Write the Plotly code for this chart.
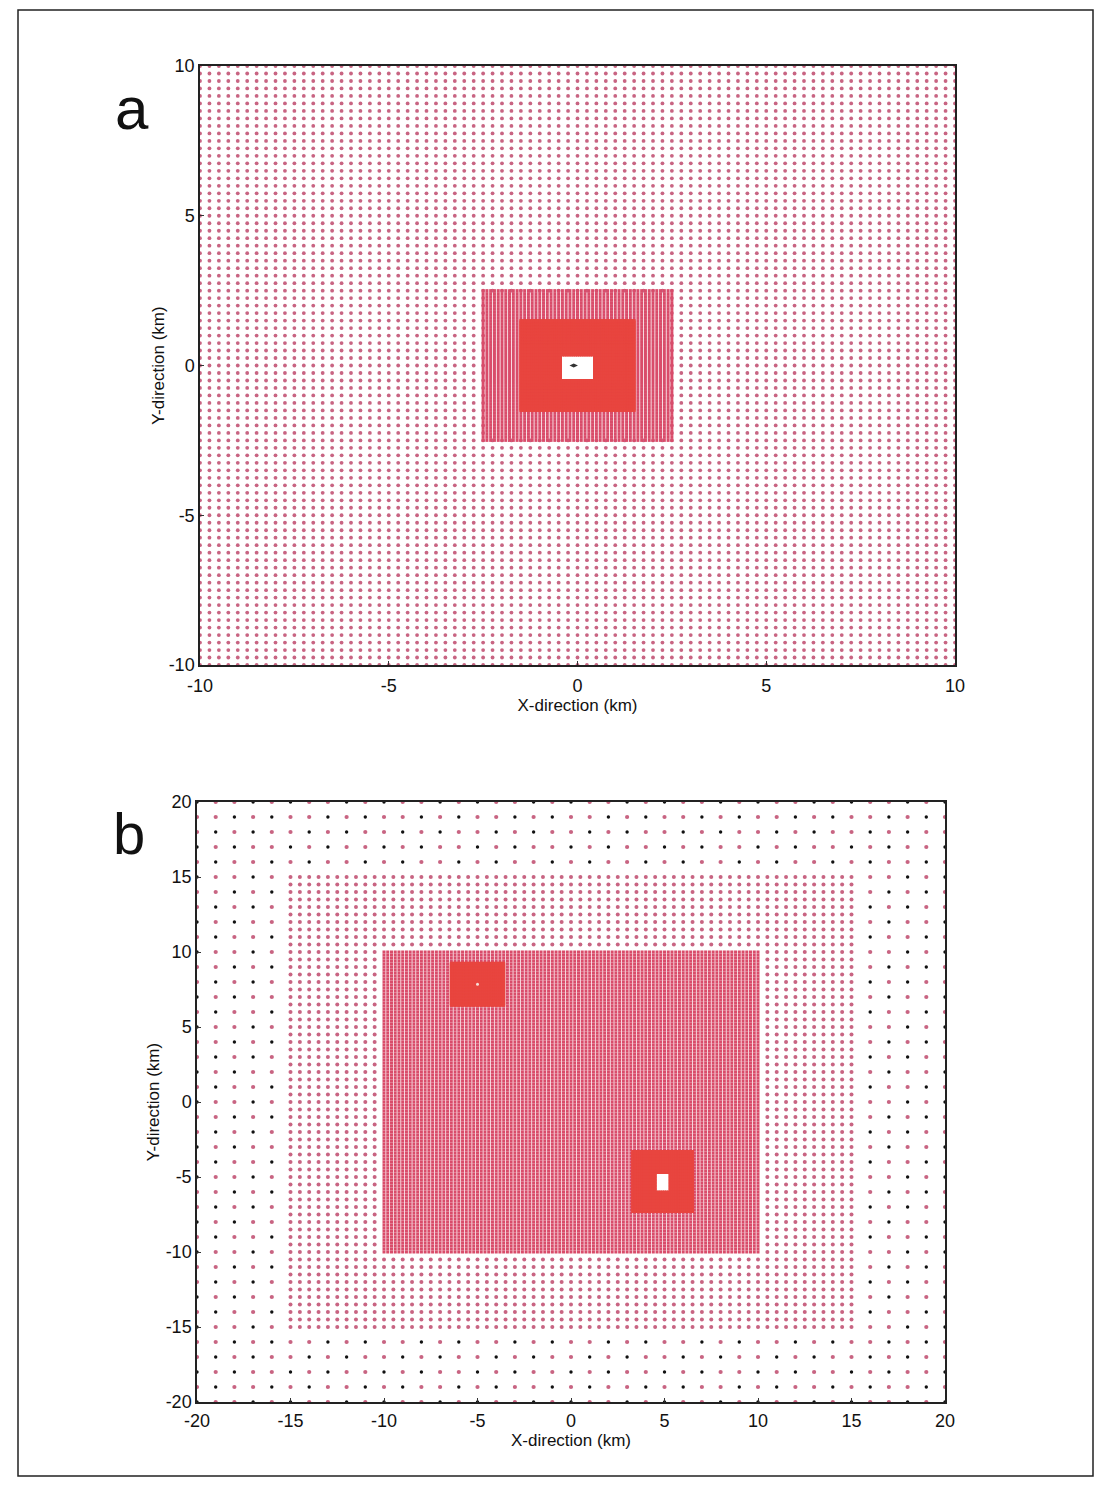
import numpy as np
import plotly.graph_objects as go

# ---------------- data: nested grid levels ----------------
# Panel a: (xmin, xmax, ymin, ymax, spacing km)
a_coarse = [-10.0, 10.0, -10.0, 10.0, 0.25]
a_medium = [-2.5, 2.5, -2.5, 2.5, 0.1]
a_fine = [-1.5, 1.5, -1.5, 1.5, 0.05]
a_hole = [-0.45, 0.45, -0.5, 0.35]          # area without nodes
a_station_x = [-0.1]
a_station_y = [0.0]

# Panel b
b_outer = [-20.0, 20.0, -20.0, 20.0, 1.0]
b_mid = [-15.0, 15.0, -15.0, 15.0, 0.5]
b_inner = [-10.0, 10.0, -10.0, 10.0, 0.2]
b_fine1 = [-6.4, -3.6, 6.45, 9.25, 0.1]
b_fine2 = [3.3, 6.5, -7.3, -3.3, 0.1]
b_hole2 = [4.55, 5.3, -6.0, -4.7]
b_hole1_x = [-5.0]
b_hole1_y = [7.85]

x_ticks_a = [-10, -5, 0, 5, 10]
y_ticks_a = [-10, -5, 0, 5, 10]
x_ticks_b = [-20, -15, -10, -5, 0, 5, 10, 15, 20]
y_ticks_b = [-20, -15, -10, -5, 0, 5, 10, 15, 20]


def grid(level, exclude=None):
    x0, x1, y0, y1, d = level
    xs = x0 + d * np.arange(int(round((x1 - x0) / d)) + 1)
    ys = y0 + d * np.arange(int(round((y1 - y0) / d)) + 1)
    X, Y = np.meshgrid(xs, ys)
    X = X.ravel(); Y = Y.ravel()
    keep = np.ones(X.shape, bool)
    for ex in (exclude or []):
        ex0, ex1, ey0, ey1 = ex[:4]
        keep &= ~((X > ex0 + 1e-9) & (X < ex1 - 1e-9) & (Y > ey0 + 1e-9) & (Y < ey1 - 1e-9))
    return X[keep], Y[keep]


fig = go.Figure()

DOT = "#c86482"
HATCH = "#d94c6a"
SOLID = "#e8453f"

def pts(x, y, ax, size, color, symbol="circle"):
    fig.add_trace(go.Scatter(x=x, y=y, mode="markers", xaxis=ax[0], yaxis=ax[1],
                             marker=dict(size=size, symbol=symbol, color=color, line=dict(width=0)),
                             hoverinfo="skip", showlegend=False))

A = ("x", "y")
B = ("x2", "y2")

# ---------- panel a ----------
x, y = grid(a_coarse, [a_medium])
pts(x, y, A, 3.8, DOT)
x, y = grid(a_medium, [a_fine])
pts(x, y, A, 3.0, HATCH, "square")
x, y = grid(a_fine, [a_hole])
pts(x, y, A, 3.0, SOLID, "square")
pts(a_station_x, a_station_y, A, 6, "#333333", "diamond-wide")

# ---------- panel b ----------
x, y = grid(b_outer, [[-15.5, 15.5, -15.5, 15.5]])
ix = np.round(x).astype(int); iy = np.round(y).astype(int)
blk = ((ix * 7 + iy * 3) % 5) < 2
pts(x[~blk], y[~blk], B, 4.2, DOT)
pts(x[blk], y[blk], B, 3.4, "#111111")
x, y = grid(b_mid, [[-10.1, 10.1, -10.1, 10.1]])
pts(x, y, B, 4.0, DOT)
x, y = grid(b_inner, [b_fine1, b_fine2])
pts(x, y, B, 3.0, HATCH, "square")
x, y = grid(b_fine1)
pts(x, y, B, 3.0, SOLID, "square")
x, y = grid(b_fine2, [b_hole2])
pts(x, y, B, 3.0, SOLID, "square")
pts(b_hole1_x, b_hole1_y, B, 3, "#f4e0d8")

# page is drawn inside the 8px body margin of the browser
OFF = 8
W, H = 1102 - 2 * OFF, 1485 - 2 * OFF
FONT = "Liberation Sans, Arial, sans-serif"

def px(v):
    return (v - OFF) / W

def py(v):
    return 1 - (v - OFF) / H

def axis(domain, rng, ticks, anchor, title, standoff, tls):
    return dict(domain=domain, range=rng, tickvals=ticks, ticktext=[str(t) for t in ticks],
                showgrid=False, zeroline=False, showline=True, linecolor="#222222", linewidth=1.5,
                mirror=True, ticks="inside", ticklen=4, tickcolor="#333333", automargin=False,
                ticklabelstandoff=tls,
                tickfont=dict(family=FONT, size=18, color="#111111"), anchor=anchor,
                title=dict(text=title, font=dict(family=FONT, size=17, color="#111111"), standoff=standoff))

fig.update_layout(
    template="none",
    width=W, height=H, margin=dict(l=0, r=0, t=0, b=0, pad=0), autosize=False,
    paper_bgcolor="white", plot_bgcolor="white",
    xaxis=axis([px(200), px(955)], [-10, 10], x_ticks_a, "y", "X-direction (km)", 2, 4),
    yaxis=axis([py(665), py(66)], [-10, 10], y_ticks_a, "x", "Y-direction (km)", 0, 0),
    xaxis2=axis([px(197), px(945)], [-20, 20], x_ticks_b, "y2", "X-direction (km)", 2, 2),
    yaxis2=axis([py(1402), py(802)], [-20, 20], y_ticks_b, "x2", "Y-direction (km)", 2, 0),
    annotations=[
        dict(text="a", x=px(132), y=py(108), xref="paper", yref="paper", showarrow=False,
             xanchor="center", yanchor="middle", font=dict(family=FONT, size=60, color="#111111")),
        dict(text="b", x=px(129), y=py(834), xref="paper", yref="paper", showarrow=False,
             xanchor="center", yanchor="middle", font=dict(family=FONT, size=58, color="#111111")),
    ],
    shapes=[dict(type="rect", xref="paper", yref="paper", x0=px(18), x1=px(1093),
                 y0=py(1476), y1=py(10), line=dict(color="#222222", width=1.5))],
)

fig.write_html("out.html")
